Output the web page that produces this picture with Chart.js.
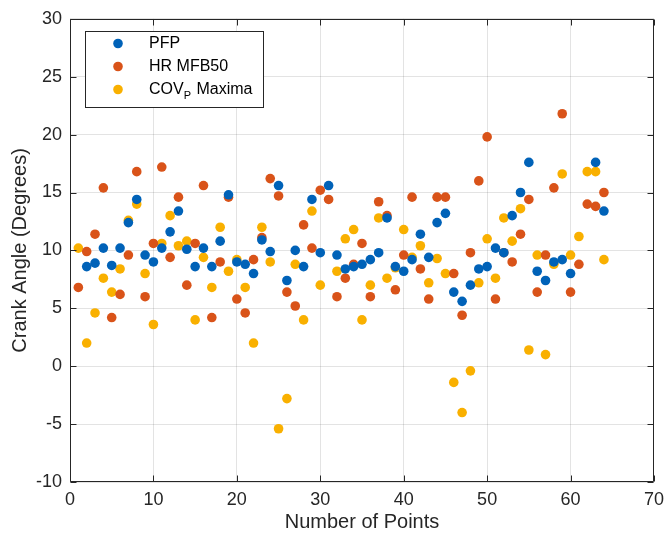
<!DOCTYPE html>
<html>
<head>
<meta charset="utf-8">
<script src="https://cdn.jsdelivr.net/npm/chart.js@4.4.0/dist/chart.umd.min.js"></script>
<style>
  body { margin: 0; background: #fff; }
  canvas { display: block; }
</style>
</head>
<body>
<canvas id="crankChart" width="671" height="534"></canvas>
<script>
// point numbers (x axis)
const pointNumbers = [
  1, 2, 3, 4, 5, 6, 7, 8, 9, 10, 11, 12, 13, 14, 15, 16,
  17, 18, 19, 20, 21, 22, 23, 24, 25, 26, 27, 28, 29, 30, 31, 32,
  33, 34, 35, 36, 37, 38, 39, 40, 41, 42, 43, 44, 45, 46, 47, 48,
  49, 50, 51, 52, 53, 54, 55, 56, 57, 58, 59, 60, 61, 62, 63, 64
];

const pfp = [
  null, 8.6, 8.9, 10.2, 8.7, 10.2, 12.4, 14.4, 9.6, 9.0, 10.2, 11.6, 13.4, 10.1, 8.6, 10.2,
  8.6, 10.8, 14.8, 9.0, 8.8, 8.0, 10.9, 9.9, 15.6, 7.4, 10.0, 8.6, 14.4, 9.8, 15.6, 9.6,
  8.4, 8.6, 8.8, 9.2, 9.8, 12.8, 8.6, 8.2, 9.2, 11.4, 9.4, 12.4, 13.2, 6.4, 5.6, 7.0,
  8.4, 8.6, 10.2, 9.8, 13.0, 15.0, 17.6, 8.2, 7.4, 9.0, 9.2, 8.0, null, null, 17.6, 13.4
];

const hrMfb50 = [
  6.8, 9.9, 11.4, 15.4, 4.2, 6.2, 9.6, 16.8, 6.0, 10.6, 17.2, 9.4, 14.6, 7.0, 10.6, 15.6,
  4.2, 9.0, 14.6, 5.8, 4.6, 9.2, 11.1, 16.2, 14.7, 6.4, 5.2, 12.2, 10.2, 15.2, 14.4, 6.0,
  7.6, 8.8, 10.6, 6.0, 14.2, 13.0, 6.6, 9.6, 14.6, 8.4, 5.8, 14.6, 14.6, 8.0, 4.4, 9.8,
  16.0, 19.8, 5.8, 9.8, 9.0, 11.4, 14.4, 6.4, 9.6, 15.4, 21.8, 6.4, 8.8, 14.0, 13.8, 15.0
];

const covMaxima = [
  10.2, 2.0, 4.6, 7.6, 6.4, 8.4, 12.6, 14.0, 8.0, 3.6, 10.6, 13.0, 10.4, 10.8, 4.0, 9.4,
  6.8, 12.0, 8.2, 9.2, 6.8, 2.0, 12.0, 9.0, -5.4, -2.8, 8.8, 4.0, 13.4, 7.0, null, 8.2,
  11.0, 11.8, 4.0, 7.0, 12.8, 7.6, 8.5, 11.8, 9.4, 10.4, 7.2, 9.3, 8.0, -1.4, -4.0, -0.4,
  7.2, 11.0, 7.6, 12.8, 10.8, 13.6, 1.4, 9.6, 1.0, 8.8, 16.6, 9.6, 11.2, 16.8, 16.8, 9.2
];

const xTicks = [0, 10, 20, 30, 40, 50, 60, 70];
const yTicks = [-10, -5, 0, 5, 10, 15, 20, 25, 30];

const seriesNames = ["PFP", "HR MFB50", "COV"];
const seriesColors = ["#0062B8", "#D95319", "#F9B000"];

const fontName = "'Liberation Sans', Arial, Helvetica, sans-serif";
const axisColor = "#262626";

function toPoints(values) {
  return pointNumbers.map((n, i) => ({ x: n, y: values[i] }));
}

// box round the axes, with inward ticks on all four sides
const boxPlugin = {
  id: "boxPlugin",
  afterDatasetsDraw(chart) {
    const { ctx, chartArea: a, scales } = chart;
    ctx.save();
    ctx.strokeStyle = axisColor;
    ctx.lineWidth = 1;
    ctx.beginPath();
    const l = Math.round(a.left) + 0.5;
    const r = Math.round(a.right) - 0.5;
    const t = Math.round(a.top) + 0.5;
    const b = Math.round(a.bottom) - 0.5;
    ctx.rect(l, t, r - l, b - t);
    xTicks.forEach(v => {
      const px = Math.round(scales.x.getPixelForValue(v)) + 0.5;
      ctx.moveTo(px, b); ctx.lineTo(px, b - 6);
      ctx.moveTo(px, t); ctx.lineTo(px, t + 6);
    });
    yTicks.forEach(v => {
      const py = Math.round(scales.y.getPixelForValue(v)) + 0.5;
      ctx.moveTo(l, py); ctx.lineTo(l + 6, py);
      ctx.moveTo(r, py); ctx.lineTo(r - 6, py);
    });
    ctx.stroke();
    ctx.restore();
  }
};

// legend drawn by hand, so the P of COV can be a subscript
const legendPlugin = {
  id: "legendPlugin",
  afterDraw(chart) {
    const { ctx } = chart;
    const left = 85.5, top = 31.5, w = 178, h = 76;
    ctx.save();
    ctx.fillStyle = "#fff";
    ctx.fillRect(left, top, w, h);
    ctx.strokeStyle = axisColor;
    ctx.lineWidth = 1;
    ctx.strokeRect(left, top, w, h);

    const rows = [43.5, 66.5, 89.5];
    ctx.textBaseline = "middle";
    rows.forEach((ry, i) => {
      ctx.fillStyle = seriesColors[i];
      ctx.beginPath();
      ctx.arc(118, ry, 4.8, 0, Math.PI * 2);
      ctx.fill();

      ctx.fillStyle = "#000";
      ctx.font = "16px " + fontName;
      ctx.fillText(seriesNames[i], 149, ry);
      if (i === 2) {
        let x = 149 + ctx.measureText(seriesNames[i]).width;
        ctx.font = "11px " + fontName;
        ctx.fillText("P", x, ry + 6);
        x += ctx.measureText("P").width + 1;
        ctx.font = "16px " + fontName;
        ctx.fillText(" Maxima", x, ry);
      }
    });
    ctx.restore();
  }
};

const datasets = [pfp, hrMfb50, covMaxima].map((values, i) => ({
  label: seriesNames[i],
  data: toPoints(values),
  backgroundColor: seriesColors[i],
  borderWidth: 0,
  pointRadius: 4.8,
  pointHoverRadius: 4.8
}));

new Chart(document.getElementById("crankChart"), {
  type: "scatter",
  data: { datasets: datasets },
  options: {
    responsive: false,
    animation: false,
    devicePixelRatio: 1,
    layout: { padding: { left: 0, right: 12, top: 17, bottom: 0 } },
    plugins: {
      legend: { display: false },
      tooltip: { enabled: false }
    },
    scales: {
      x: {
        type: "linear",
        min: 0,
        max: 70,
        afterFit: s => { s.height = 52; },
        afterBuildTicks: s => { s.ticks = xTicks.map(v => ({ value: v })); },
        ticks: {
          color: axisColor,
          font: { family: fontName, size: 18 },
          padding: 7,
          maxRotation: 0
        },
        grid: { color: "rgba(38,38,38,0.13)", drawTicks: false },
        border: { display: false },
        title: {
          display: true,
          text: "Number of Points",
          color: axisColor,
          font: { family: fontName, size: 20 },
          padding: { top: 0, bottom: 0 }
        }
      },
      y: {
        min: -10,
        max: 30,
        afterFit: s => { s.width = 70; },
        afterBuildTicks: s => { s.ticks = yTicks.map(v => ({ value: v })); },
        ticks: {
          color: axisColor,
          font: { family: fontName, size: 18 },
          padding: 8
        },
        grid: { color: "rgba(38,38,38,0.13)", drawTicks: false },
        border: { display: false },
        title: {
          display: true,
          text: "Crank Angle (Degrees)",
          color: axisColor,
          font: { family: fontName, size: 20 },
          padding: { top: 8, bottom: 0 }
        }
      }
    }
  },
  plugins: [boxPlugin, legendPlugin]
});
</script>
</body>
</html>
